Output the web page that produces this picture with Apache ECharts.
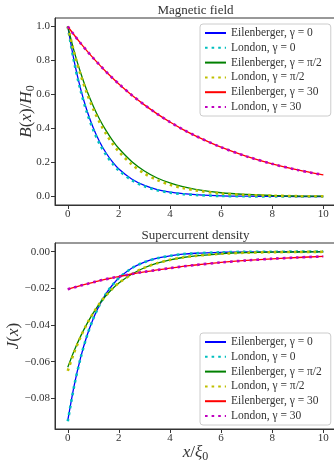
<!DOCTYPE html>
<html>
<head>
<meta charset="utf-8">
<script src="https://cdn.jsdelivr.net/npm/echarts@6/dist/echarts.min.js"></script>
<style>
  html, body { margin: 0; padding: 0; background: #fff; }
  #chart { width: 334px; height: 461px; }
</style>
</head>
<body>
<div id="chart"></div>
<script>
// x / xi_0 sample positions
const xs = [0, 0.25, 0.5, 0.75, 1, 1.25, 1.5, 1.75, 2, 2.5, 3, 3.5, 4, 4.5, 5, 6, 7, 8, 9, 10];

// B(x)/H0
const bEil0   = [1.0, 0.797, 0.635, 0.506, 0.403, 0.321, 0.256, 0.204, 0.162, 0.103, 0.065, 0.041, 0.026, 0.017, 0.011, 0.004, 0.002, 0.001, 0.0, 0.0];
const bLon0   = [1.0, 0.790, 0.625, 0.494, 0.391, 0.309, 0.245, 0.194, 0.153, 0.096, 0.060, 0.037, 0.023, 0.014, 0.009, 0.003, 0.001, 0.0, 0.0, 0.0];
const bEilPi2 = [1.0, 0.854, 0.729, 0.622, 0.531, 0.453, 0.387, 0.330, 0.282, 0.206, 0.150, 0.109, 0.080, 0.058, 0.042, 0.022, 0.012, 0.006, 0.003, 0.002];
const bLonPi2 = [1.0, 0.846, 0.717, 0.607, 0.513, 0.435, 0.368, 0.311, 0.264, 0.189, 0.135, 0.097, 0.069, 0.050, 0.036, 0.018, 0.009, 0.005, 0.002, 0.001];
const bEil30  = [1.0, 0.950, 0.902, 0.857, 0.814, 0.773, 0.734, 0.697, 0.662, 0.597, 0.539, 0.486, 0.438, 0.395, 0.357, 0.290, 0.236, 0.192, 0.156, 0.127];
const bLon30  = [1.0, 0.950, 0.902, 0.857, 0.814, 0.773, 0.734, 0.697, 0.662, 0.597, 0.539, 0.486, 0.438, 0.395, 0.357, 0.290, 0.236, 0.192, 0.156, 0.127];

// J(x)
const jEil0   = [-0.0920, -0.0730, -0.0579, -0.0459, -0.0364, -0.0289, -0.0229, -0.0182, -0.0144, -0.0091, -0.0057, -0.0036, -0.0023, -0.0014, -0.0009, -0.0004, -0.0001, -0.0001, 0, 0];
const jLon0   = [-0.0925, -0.0733, -0.0581, -0.0460, -0.0365, -0.0289, -0.0229, -0.0182, -0.0144, -0.0091, -0.0057, -0.0036, -0.0023, -0.0014, -0.0009, -0.0004, -0.0001, -0.0001, 0, 0];
const jEilPi2 = [-0.0630, -0.0540, -0.0462, -0.0394, -0.0334, -0.0282, -0.0239, -0.0202, -0.0171, -0.0123, -0.0088, -0.0063, -0.0045, -0.0032, -0.0023, -0.0012, -0.0006, -0.0003, -0.0002, -0.0001];
const jLonPi2 = [-0.0650, -0.0550, -0.0466, -0.0394, -0.0334, -0.0282, -0.0239, -0.0202, -0.0171, -0.0123, -0.0088, -0.0063, -0.0045, -0.0032, -0.0023, -0.0012, -0.0006, -0.0003, -0.0002, -0.0001];
const jEil30  = [-0.0205, -0.0195, -0.0185, -0.0176, -0.0167, -0.0158, -0.0150, -0.0143, -0.0136, -0.0122, -0.0110, -0.0100, -0.0090, -0.0081, -0.0073, -0.0059, -0.0048, -0.0039, -0.0032, -0.0026];
const jLon30  = [-0.0205, -0.0195, -0.0185, -0.0176, -0.0167, -0.0158, -0.0150, -0.0143, -0.0136, -0.0122, -0.0110, -0.0100, -0.0090, -0.0081, -0.0073, -0.0059, -0.0048, -0.0039, -0.0032, -0.0026];

const names = [
  'Eilenberger, γ = 0', 'London, γ = 0',
  'Eilenberger, γ = π/2', 'London, γ = π/2',
  'Eilenberger, γ = 30', 'London, γ = 30'
];
const xTicks = [0, 2, 4, 6, 8, 10];
const bTicks = [0, 0.2, 0.4, 0.6, 0.8, 1.0];
const jTicks = [-0.08, -0.06, -0.04, -0.02, 0];

const colors = ['#0000ff', '#00bfbf', '#008000', '#bfbf00', '#ff0000', '#bf00bf'];
const serif = 'Liberation Serif';
const ink = '#333';

const pair = ys => xs.map((x, i) => [x, ys[i]]);

function makeSeries(arrays, idx) {
  return arrays.map((ys, k) => {
    const dotted = k % 2 === 1;
    return {
      name: names[k],
      type: 'line',
      xAxisIndex: idx,
      yAxisIndex: idx,
      data: pair(ys),
      smooth: 0.3,
      symbol: 'none',
      animation: false,
      color: colors[k],
      lineStyle: dotted
        ? { color: colors[k], width: 2.6, type: [2.6, 4], cap: 'butt' }
        : { color: colors[k], width: 1.3 }
    };
  });
}

const nameRich = {
  i: { fontFamily: serif, fontSize: 17, fontStyle: 'italic', color: ink },
  s: { fontFamily: serif, fontSize: 12, color: ink, padding: [8, 0, 0, 0] }
};

function xAxis(idx, withName) {
  return {
    type: 'value',
    gridIndex: idx,
    min: -0.5,
    max: 10.5,
    name: withName ? '{i|x}/{i|ξ}{s|0}' : '',
    nameLocation: 'middle',
    nameGap: 14,
    nameMoveOverlap: false,
    nameTextStyle: { fontFamily: serif, fontSize: 17, color: ink, rich: nameRich },
    axisLine: { show: true, onZero: false, lineStyle: { color: ink, width: 1 } },
    axisTick: { show: true, length: 4, lineStyle: { color: ink }, customValues: xTicks },
    axisLabel: {
      customValues: xTicks, color: ink, fontFamily: serif, fontSize: 11, margin: 4
    },
    splitLine: { show: false }
  };
}

function yAxis(idx, min, max, ticks, digits, name, gap) {
  return {
    type: 'value',
    gridIndex: idx,
    min: min,
    max: max,
    name: name,
    nameLocation: 'middle',
    nameGap: gap,
    nameMoveOverlap: false,
    nameTextStyle: { fontFamily: serif, fontSize: 17, color: ink, rich: nameRich },
    axisLine: { show: true, onZero: false, lineStyle: { color: ink, width: 1 } },
    axisTick: { show: true, length: 4, lineStyle: { color: ink }, customValues: ticks },
    axisLabel: {
      customValues: ticks, color: ink, fontFamily: serif, fontSize: 11, margin: 5,
      formatter: v => (v < -1e-9 ? '\u2212' : '') + Math.abs(v).toFixed(digits)
    },
    splitLine: { show: false }
  };
}

function legend(top) {
  return {
    orient: 'vertical',
    left: 200,
    top: top,
    data: names,
    itemWidth: 21,
    itemHeight: 10,
    itemGap: 2.8,
    padding: [3, 9, 3, 4],
    backgroundColor: 'rgba(255,255,255,0.85)',
    borderColor: '#cccccc',
    borderWidth: 1,
    borderRadius: 3,
    itemStyle: { opacity: 0 },
    textStyle: { fontFamily: serif, fontSize: 11.5, color: ink, lineHeight: 12 },
    selectedMode: false
  };
}

const chart = echarts.init(document.getElementById('chart'), null, { renderer: 'canvas' });

const gridBase = {
  left: 55, width: 281, show: true, borderColor: ink, borderWidth: 1,
  backgroundColor: 'transparent', containLabel: false, outerBoundsMode: 'none'
};

chart.setOption({
  backgroundColor: '#ffffff',
  animation: false,
  grid: [
    Object.assign({}, gridBase, { top: 18, height: 187 }),
    Object.assign({}, gridBase, { top: 243, height: 186 })
  ],
  xAxis: [xAxis(0, false), xAxis(1, true)],
  yAxis: [
    yAxis(0, -0.05, 1.05, bTicks, 1, '{i|B}({i|x})/{i|H}{s|0}', 18),
    yAxis(1, -0.0967, 0.0047, jTicks, 2, '{i|J}({i|x})', 33)
  ],
  legend: [legend(24), legend(333)],
  graphic: [
    { type: 'text', x: 195.5, y: 11, style: { text: 'Magnetic field', fontFamily: serif, fontSize: 13, fill: ink, align: 'center', verticalAlign: 'middle' } },
    { type: 'text', x: 195.5, y: 235.5, style: { text: 'Supercurrent density', fontFamily: serif, fontSize: 13, fill: ink, align: 'center', verticalAlign: 'middle' } }
  ],
  series: [
    ...makeSeries([bEil0, bLon0, bEilPi2, bLonPi2, bEil30, bLon30], 0),
    ...makeSeries([jEil0, jLon0, jEilPi2, jLonPi2, jEil30, jLon30], 1)
  ]
});
</script>
</body>
</html>
